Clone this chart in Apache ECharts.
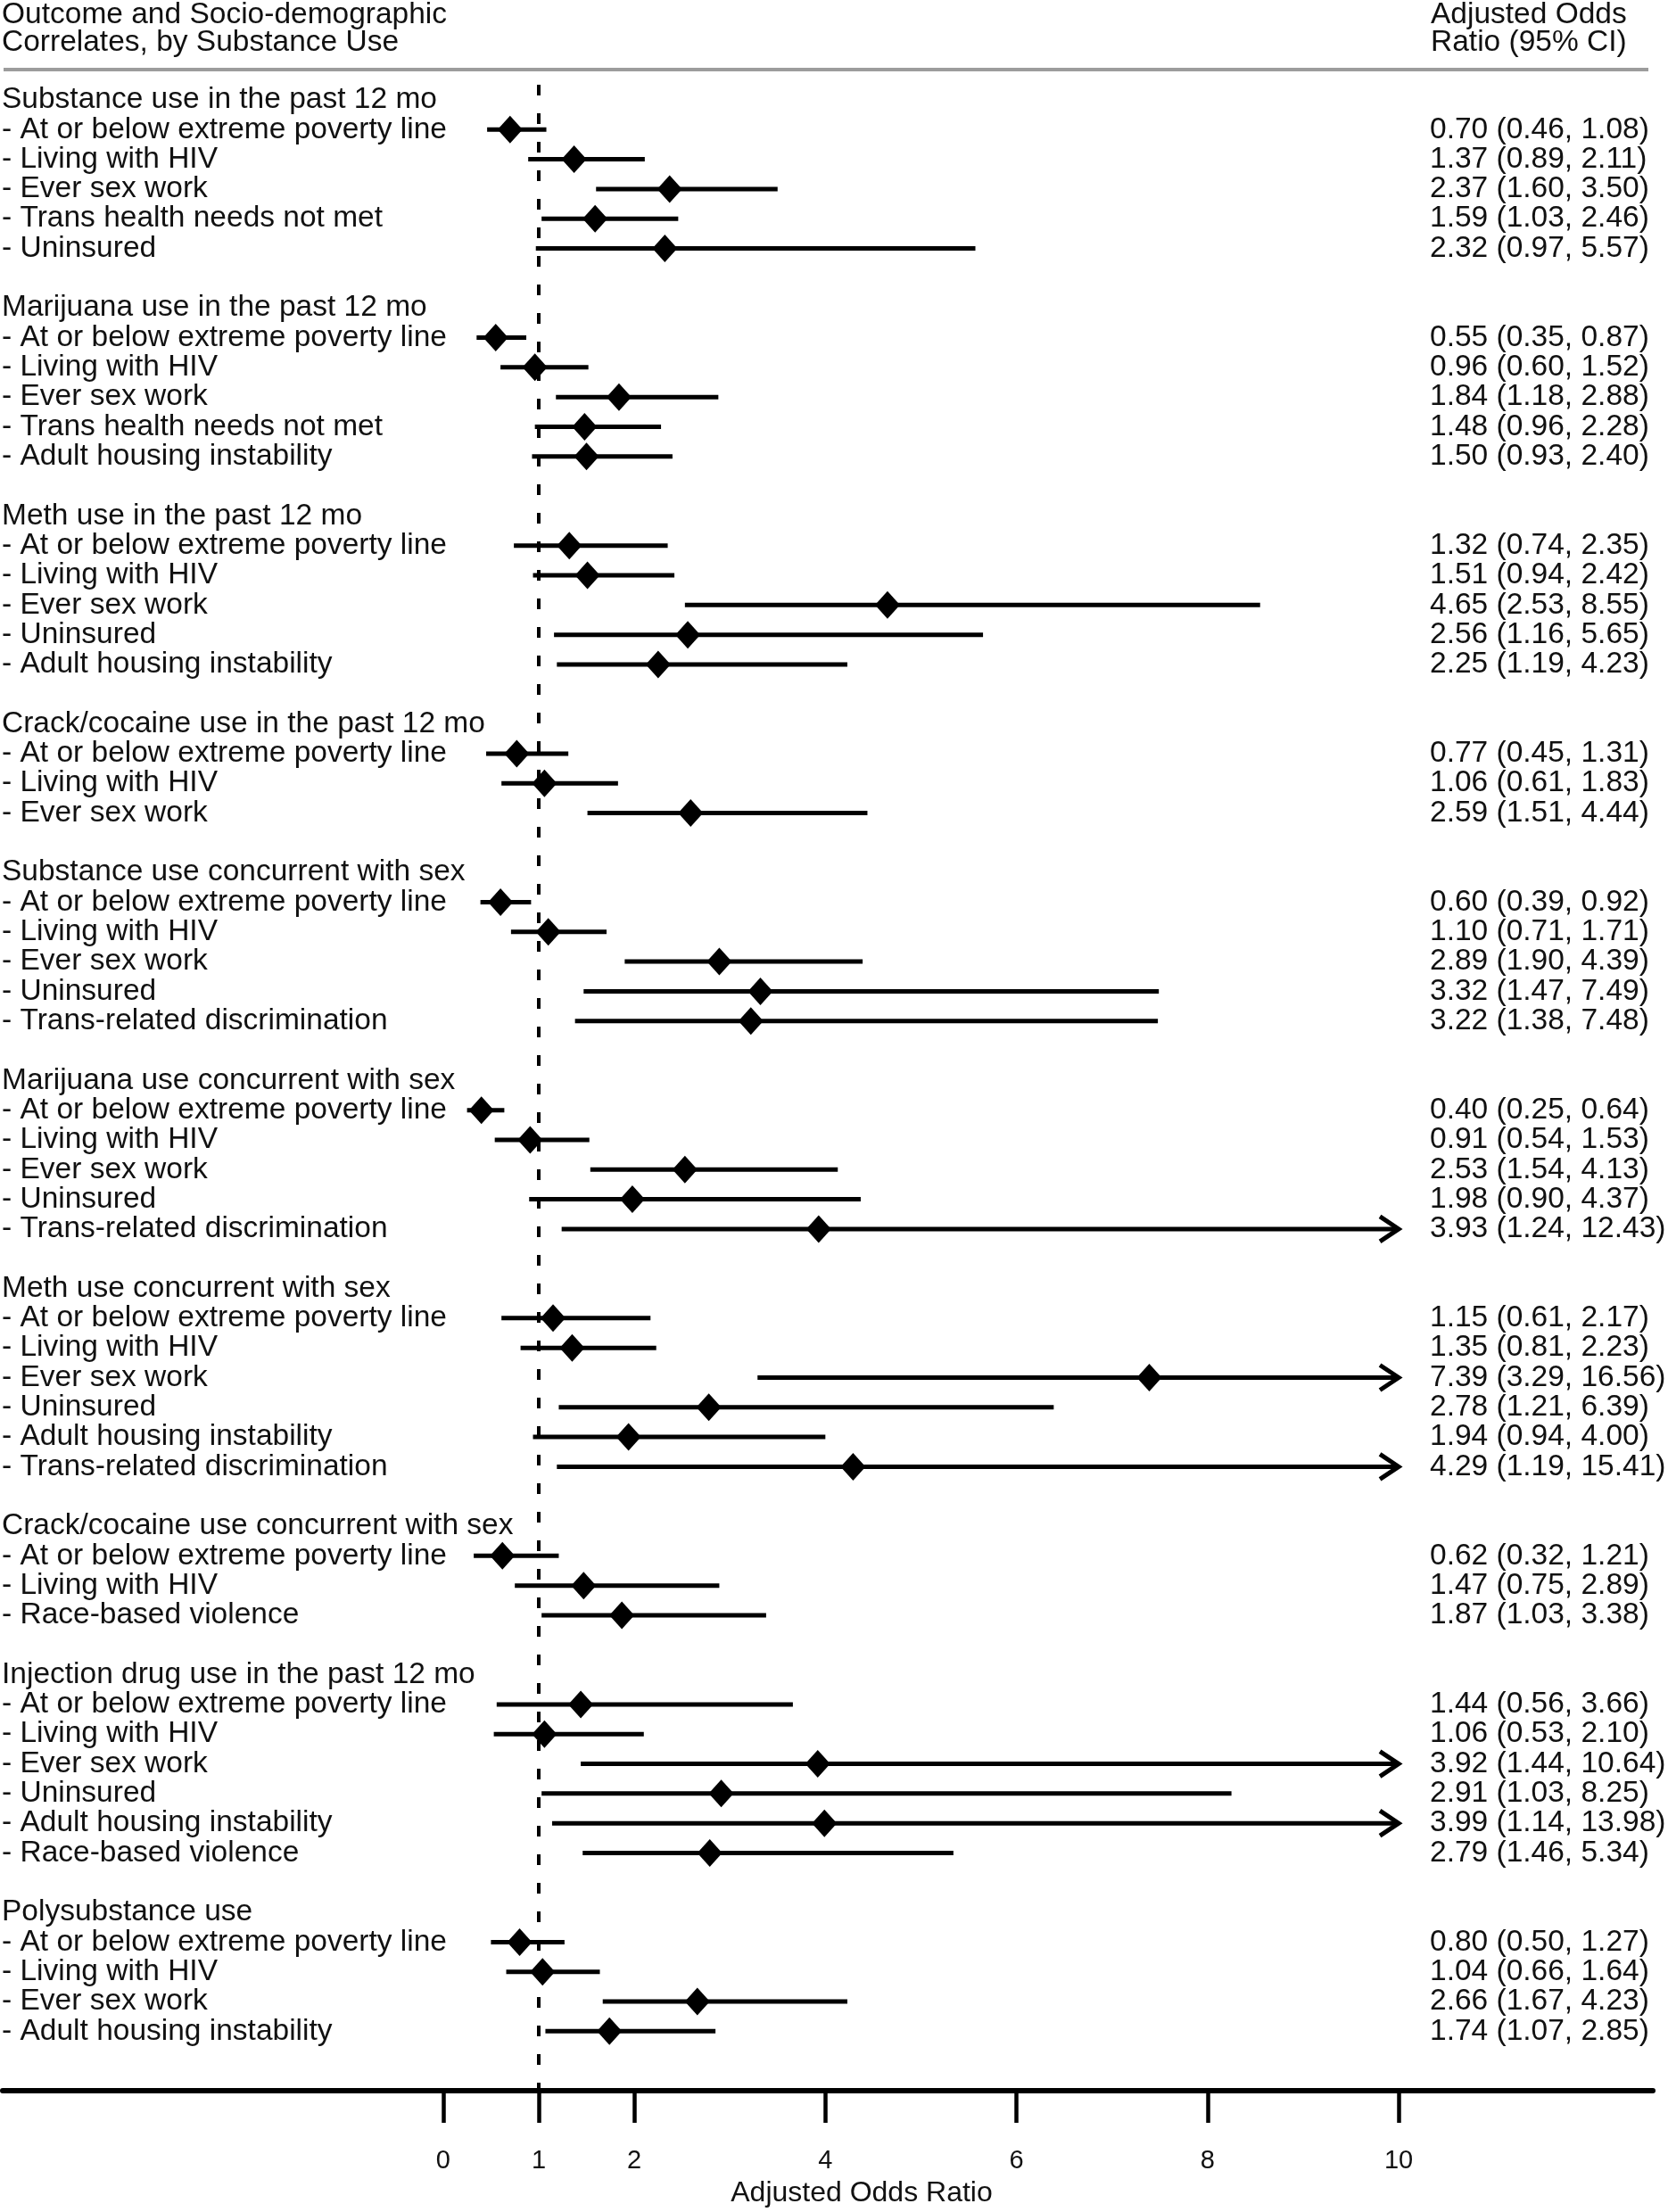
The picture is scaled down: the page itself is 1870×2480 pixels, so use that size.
<!DOCTYPE html>
<html>
<head>
<meta charset="utf-8">
<script src="https://cdn.jsdelivr.net/npm/echarts@6/dist/echarts.min.js"></script>
<style>
html,body{margin:0;padding:0;background:#fff;}
#chart{width:1870px;height:2480px;}
</style>
</head>
<body>
<div id="chart"></div>
<script>
// ---- Data ----
const rowLabels = [
  'Substance use in the past 12 mo',
  '- At or below extreme poverty line',
  '- Living with HIV',
  '- Ever sex work',
  '- Trans health needs not met',
  '- Uninsured',
  '',
  'Marijuana use in the past 12 mo',
  '- At or below extreme poverty line',
  '- Living with HIV',
  '- Ever sex work',
  '- Trans health needs not met',
  '- Adult housing instability',
  '',
  'Meth use in the past 12 mo',
  '- At or below extreme poverty line',
  '- Living with HIV',
  '- Ever sex work',
  '- Uninsured',
  '- Adult housing instability',
  '',
  'Crack/cocaine use in the past 12 mo',
  '- At or below extreme poverty line',
  '- Living with HIV',
  '- Ever sex work',
  '',
  'Substance use concurrent with sex',
  '- At or below extreme poverty line',
  '- Living with HIV',
  '- Ever sex work',
  '- Uninsured',
  '- Trans-related discrimination',
  '',
  'Marijuana use concurrent with sex',
  '- At or below extreme poverty line',
  '- Living with HIV',
  '- Ever sex work',
  '- Uninsured',
  '- Trans-related discrimination',
  '',
  'Meth use concurrent with sex',
  '- At or below extreme poverty line',
  '- Living with HIV',
  '- Ever sex work',
  '- Uninsured',
  '- Adult housing instability',
  '- Trans-related discrimination',
  '',
  'Crack/cocaine use concurrent with sex',
  '- At or below extreme poverty line',
  '- Living with HIV',
  '- Race-based violence',
  '',
  'Injection drug use in the past 12 mo',
  '- At or below extreme poverty line',
  '- Living with HIV',
  '- Ever sex work',
  '- Uninsured',
  '- Adult housing instability',
  '- Race-based violence',
  '',
  'Polysubstance use',
  '- At or below extreme poverty line',
  '- Living with HIV',
  '- Ever sex work',
  '- Adult housing instability'
];

const oddsRatio = [
  null, 0.70, 1.37, 2.37, 1.59, 2.32, null,
  null, 0.55, 0.96, 1.84, 1.48, 1.50, null,
  null, 1.32, 1.51, 4.65, 2.56, 2.25, null,
  null, 0.77, 1.06, 2.59, null,
  null, 0.60, 1.10, 2.89, 3.32, 3.22, null,
  null, 0.40, 0.91, 2.53, 1.98, 3.93, null,
  null, 1.15, 1.35, 7.39, 2.78, 1.94, 4.29, null,
  null, 0.62, 1.47, 1.87, null,
  null, 1.44, 1.06, 3.92, 2.91, 3.99, 2.79, null,
  null, 0.80, 1.04, 2.66, 1.74
];

const ciLower = [
  null, 0.46, 0.89, 1.60, 1.03, 0.97, null,
  null, 0.35, 0.60, 1.18, 0.96, 0.93, null,
  null, 0.74, 0.94, 2.53, 1.16, 1.19, null,
  null, 0.45, 0.61, 1.51, null,
  null, 0.39, 0.71, 1.90, 1.47, 1.38, null,
  null, 0.25, 0.54, 1.54, 0.90, 1.24, null,
  null, 0.61, 0.81, 3.29, 1.21, 0.94, 1.19, null,
  null, 0.32, 0.75, 1.03, null,
  null, 0.56, 0.53, 1.44, 1.03, 1.14, 1.46, null,
  null, 0.50, 0.66, 1.67, 1.07
];

const ciUpper = [
  null, 1.08, 2.11, 3.50, 2.46, 5.57, null,
  null, 0.87, 1.52, 2.88, 2.28, 2.40, null,
  null, 2.35, 2.42, 8.55, 5.65, 4.23, null,
  null, 1.31, 1.83, 4.44, null,
  null, 0.92, 1.71, 4.39, 7.49, 7.48, null,
  null, 0.64, 1.53, 4.13, 4.37, 12.43, null,
  null, 2.17, 2.23, 16.56, 6.39, 4.00, 15.41, null,
  null, 1.21, 2.89, 3.38, null,
  null, 3.66, 2.10, 10.64, 8.25, 13.98, 5.34, null,
  null, 1.27, 1.64, 4.23, 2.85
];

const xTicks = [0, 1, 2, 4, 6, 8, 10];
const referenceValue = 1;
const arrowCap = 10;

const headerLeft = ['Outcome and Socio-demographic', 'Correlates, by Substance Use'];
const headerRight = ['Adjusted Odds', 'Ratio (95% CI)'];
const xAxisTitle = 'Adjusted Odds Ratio';

// ---- Build series data ----
const FONT = '"Liberation Sans", Arial, Helvetica, sans-serif';
const TEXT_SIZE = 33.5;
const labelData = [];
const ciData = [];
const pointData = [];
const valueTextData = [];
rowLabels.forEach((lab, i) => {
  if (lab) labelData.push([0, i, lab]);
  if (oddsRatio[i] != null) {
    ciData.push([ciLower[i], i, ciUpper[i]]);
    pointData.push([oddsRatio[i], i]);
    valueTextData.push([oddsRatio[i], i,
      oddsRatio[i].toFixed(2) + ' (' + ciLower[i].toFixed(2) + ', ' + ciUpper[i].toFixed(2) + ')']);
  }
});

const chart = echarts.init(document.getElementById('chart'), null, {renderer: 'canvas'});

const option = {
  backgroundColor: '#ffffff',
  animation: false,
  textStyle: {fontFamily: FONT},
  grid: {left: 3, right: 17, top: 95, bottom: 135, containLabel: false},
  xAxis: {
    type: 'value',
    position: 'bottom',
    min: -4.61,
    max: 12.66,
    axisLine: {show: true, onZero: false, lineStyle: {color: '#000', width: 6}},
    axisTick: {show: true, customValues: xTicks, length: 36, lineStyle: {color: '#000', width: 4.5}},
    axisLabel: {show: true, customValues: xTicks, fontSize: 29, color: '#111', margin: 64, fontFamily: FONT},
    splitLine: {show: false},
    name: xAxisTitle,
    nameLocation: 'middle',
    nameGap: 99,
    nameTextStyle: {fontSize: 32, color: '#111', fontFamily: FONT, padding: [0, 0, 0, 76]}
  },
  yAxis: {
    type: 'value',
    inverse: true,
    min: -0.51,
    max: 67,
    show: false,
    splitLine: {show: false}
  },
  graphic: [
    {type: 'text', left: 2, top: 0, style: {text: headerLeft[0], fontSize: TEXT_SIZE, fill: '#111', fontFamily: FONT}},
    {type: 'text', left: 2, top: 31, style: {text: headerLeft[1], fontSize: TEXT_SIZE, fill: '#111', fontFamily: FONT}},
    {type: 'text', left: 1604, top: 0, style: {text: headerRight[0], fontSize: TEXT_SIZE, fill: '#111', fontFamily: FONT}},
    {type: 'text', left: 1604, top: 31, style: {text: headerRight[1], fontSize: TEXT_SIZE, fill: '#111', fontFamily: FONT}},
    {type: 'line', shape: {x1: 4, y1: 78, x2: 1848, y2: 78}, style: {stroke: '#9c9c9c', lineWidth: 4}}
  ],
  series: [
    {
      name: 'Row labels',
      type: 'custom',
      coordinateSystem: 'cartesian2d',
      silent: true,
      clip: false,
      encode: {x: 0, y: 1},
      data: labelData,
      renderItem: function (params, api) {
        const p = api.coord([0, api.value(1)]);
        return {
          type: 'text',
          x: 2,
          y: p[1],
          style: {
            text: labelData[params.dataIndex][2],
            fontSize: TEXT_SIZE,
            fontFamily: FONT,
            fill: '#111',
            align: 'left',
            verticalAlign: 'middle'
          }
        };
      }
    },
    {
      name: '95% CI',
      type: 'custom',
      coordinateSystem: 'cartesian2d',
      silent: true,
      clip: false,
      encode: {x: [0, 2], y: 1},
      data: ciData,
      z: 3,
      renderItem: function (params, api) {
        const y = api.value(1);
        const lo = api.value(0);
        const hi = api.value(2);
        const p0 = api.coord([lo, y]);
        const p1 = api.coord([Math.min(hi, arrowCap), y]);
        const children = [{
          type: 'line',
          shape: {x1: p0[0], y1: p0[1], x2: p1[0], y2: p1[1]},
          style: {stroke: '#000', lineWidth: 5}
        }];
        if (hi > arrowCap) {
          children.push({
            type: 'polyline',
            shape: {points: [[p1[0] - 21, p1[1] - 14], [p1[0], p1[1]], [p1[0] - 21, p1[1] + 14]]},
            style: {stroke: '#000', lineWidth: 5, fill: null, lineJoin: 'miter'}
          });
        }
        return {type: 'group', children: children};
      }
    },
    {
      name: 'Adjusted odds ratio',
      type: 'scatter',
      data: pointData,
      symbol: 'diamond',
      symbolSize: [28, 31],
      itemStyle: {color: '#000', opacity: 1},
      z: 4,
      clip: false,
      silent: true,
      markLine: {
        silent: true,
        symbol: ['none', 'none'],
        label: {show: false},
        lineStyle: {color: '#000', width: 4, type: [12, 20], opacity: 1},
        data: [{xAxis: referenceValue}]
      }
    },
    {
      name: 'Value text',
      type: 'custom',
      coordinateSystem: 'cartesian2d',
      silent: true,
      clip: false,
      encode: {x: 0, y: 1},
      data: valueTextData,
      renderItem: function (params, api) {
        const p = api.coord([0, api.value(1)]);
        return {
          type: 'text',
          x: 1603,
          y: p[1],
          style: {
            text: valueTextData[params.dataIndex][2],
            fontSize: TEXT_SIZE,
            fontFamily: FONT,
            fill: '#111',
            align: 'left',
            verticalAlign: 'middle'
          }
        };
      }
    }
  ]
};

chart.setOption(option);
</script>
</body>
</html>
